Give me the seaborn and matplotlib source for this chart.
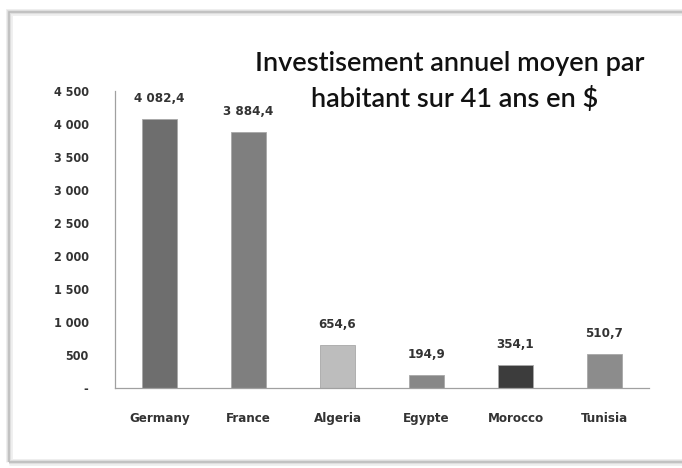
import numpy as np
import pandas as pd
import matplotlib
matplotlib.use("Agg")
import matplotlib.pyplot as plt
import seaborn as sns
from matplotlib.patches import Rectangle

countries = ["Germany", "France", "Algeria", "Egypte", "Morocco", "Tunisia"]
invest = [4082.4, 3884.4, 654.6, 194.9, 354.1, 510.7]
bar_colors = ["#6e6e6e", "#7f7f7f", "#bdbdbd", "#878787", "#3c3c3c", "#8c8c8c"]
yticks = [0, 500, 1000, 1500, 2000, 2500, 3000, 3500, 4000, 4500]
title_lines = ["Investisement annuel moyen par", "habitant sur 41 ans en $"]

sns.set_style("white")
plt.rcParams["font.family"] = ["DejaVu Sans"]
plt.rcParams["font.stretch"] = "condensed"

df = pd.DataFrame({"pays": countries, "val": invest})

fig = plt.figure(figsize=(6.82, 4.68), dpi=100)
ax = fig.add_axes([115 / 682, 1 - 388 / 468, 534 / 682, 297 / 468])

sns.barplot(data=df, x="pays", y="val", hue="pays", palette=bar_colors,
            width=0.4, legend=False, ax=ax, saturation=1,
            edgecolor="#a8a8a8", linewidth=0.6)

ax.set_xlim(-0.5, len(countries) - 0.5)
ax.set_ylim(0, 4500)
ax.set_yticks(yticks)
ax.set_yticklabels(["-" if v == 0 else f"{v:,}".replace(",", " ") for v in yticks])
ax.set_xlabel("")
ax.set_ylabel("")

# category boundary ticks on x
ax.set_xticks(np.arange(-0.5, len(countries)), minor=True)
ax.tick_params(axis="x", which="major", length=0, pad=17, labelsize=9.5,
               labelcolor="#333333")
ax.tick_params(axis="x", which="minor", length=5, width=0.8, color="#999999",
               direction="out")
ax.tick_params(axis="y", length=5, width=0.8, color="#999999", direction="out",
               pad=14, labelsize=9, labelcolor="#333333")
for lab in ax.get_xticklabels() + ax.get_yticklabels():
    lab.set_fontweight("bold")
    lab.set_fontstretch("condensed")

for s in ["top", "right"]:
    ax.spines[s].set_visible(False)
for s in ["left", "bottom"]:
    ax.spines[s].set_color("#a0a0a0")
    ax.spines[s].set_linewidth(0.9)

for i, v in enumerate(invest):
    lab = f"{v:,.1f}".replace(",", " ").replace(".", ",")
    ax.annotate(lab, (i, v), xytext=(0, 10), textcoords="offset points",
                ha="center", va="bottom", fontsize=9.5, color="#333333",
                fontweight="bold", fontstretch="condensed")

for line, (xc, yc) in zip(title_lines, [(450, 64), (455, 99)]):
    fig.text(xc / 682, 1 - yc / 468, line, ha="center", va="center",
             fontsize=19.5, color="#111111",
             family=["Lato", "DejaVu Sans"], fontweight="semibold",
             fontstretch="normal")

# document frame with soft shadow
for lw, c in [(5, "#f0f0f0"), (3, "#dedede"), (1.2, "#bdbdbd")]:
    fig.patches.append(Rectangle((9 / 682, 1 - 462 / 468), 700 / 682, 450 / 468,
                                 transform=fig.transFigure, fill=False,
                                 edgecolor=c, linewidth=lw, zorder=0))

fig.savefig("out.png", dpi=100)
